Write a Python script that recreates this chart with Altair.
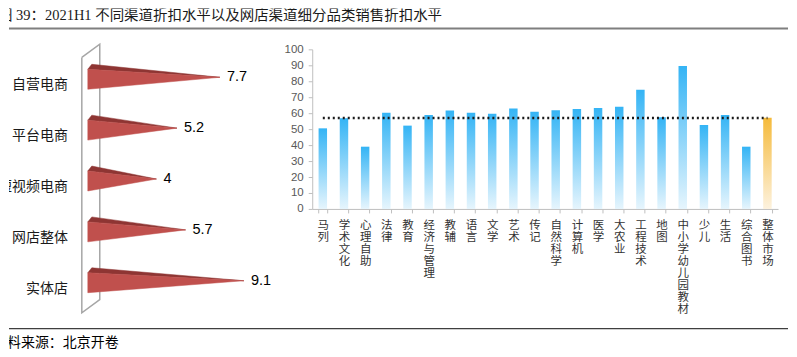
import altair as alt
import pandas as pd

# ---------------- data ----------------
channels = ["自营电商", "平台电商", "短视频电商", "网店整体", "实体店"]
channel_discount = [7.7, 5.2, 4, 5.7, 9.1]

categories = ["马列", "学术文化", "心理自助", "法律", "教育", "经济与管理", "教辅", "语言",
              "文学", "艺术", "传记", "自然科学", "计算机", "医学", "大农业", "工程技术",
              "地图", "中小学幼儿园教材", "少儿", "生活", "综合图书", "整体市场"]
category_discount = [50.5, 56.8, 39.0, 60.3, 52.2, 58.9, 61.6, 60.3, 59.7, 63.0, 60.9,
                     61.8, 62.6, 63.3, 64.1, 74.7, 57.4, 89.6, 52.6, 58.9, 39.0, 57.2]
overall_level = 57.0

TITLE = "图 39：2021H1 不同渠道折扣水平以及网店渠道细分品类销售折扣水平"
SOURCE = "资料来源：北京开卷"

CJK = "'Noto Sans CJK SC', sans-serif"
TITLE_FONT = "'Liberation Serif', 'Noto Sans CJK SC', serif"

# ---------------- left panel (cones) ----------------
STEP = 51.0       # px per category slot
UNIT = 17.2       # px per discount unit
lx = alt.Scale(domain=[0, 10], range=[79, 79 + 10 * UNIT], nice=False, zero=False)
ly = alt.Scale(domain=[0, len(channels) - 1], range=[69, 69 + STEP * (len(channels) - 1)],
               nice=False, zero=False)

main_rows, dark_rows, label_rows = [], [], []
for i, (c, v) in enumerate(zip(channels, channel_discount)):
    top = i - 8 / STEP
    bot = i + 12 / STEP
    dtop = i - 13 / STEP
    xc = 4 / UNIT
    main_rows += [dict(cat=c, k=0, px=0, py=top), dict(cat=c, k=1, px=v, py=i),
                  dict(cat=c, k=2, px=0, py=bot), dict(cat=c, k=3, px=0, py=top)]
    dark_rows += [dict(cat=c, k=0, px=0, py=top), dict(cat=c, k=1, px=xc, py=dtop),
                  dict(cat=c, k=2, px=v, py=i), dict(cat=c, k=3, px=0, py=top)]
    label_rows.append(dict(cat=c, idx=i, v=v, lab=f"{v:g}"))

main_df = pd.DataFrame(main_rows)
dark_df = pd.DataFrame(dark_rows)
lab_df = pd.DataFrame(label_rows)

wx0, wx1 = -6 / UNIT, 12 / UNIT
wall_df = pd.DataFrame(dict(
    k=[0, 1, 2, 3, 4],
    px=[wx0, wx1, wx1, wx0, wx0],
    py=[-0.39, -0.65, 4.37, 4.63, -0.39],
))

wall = alt.Chart(wall_df).mark_line(stroke="#A6A6A6", strokeWidth=1.5).encode(
    x=alt.X("px:Q", scale=lx, axis=None),
    y=alt.Y("py:Q", scale=ly, axis=None),
    order="k:Q",
)

dark_face = alt.Chart(dark_df).mark_line(
    fill="#8E3533", stroke="#8E3533", strokeWidth=0.5, strokeJoin="miter"
).encode(
    x=alt.X("px:Q", scale=lx, axis=None),
    y=alt.Y("py:Q", scale=ly, axis=None),
    detail="cat:N",
    order="k:Q",
)

main_face = alt.Chart(main_df).mark_line(
    fill="#C0504D", stroke="#C0504D", strokeWidth=0.5, strokeJoin="miter"
).encode(
    x=alt.X("px:Q", scale=lx, axis=None),
    y=alt.Y("py:Q", scale=ly, axis=None),
    detail="cat:N",
    order="k:Q",
)

cat_labels = alt.Chart(lab_df).mark_text(
    align="right", baseline="middle", dy=8, fontSize=14, font=CJK, color="#1A1A1A", clip=True
).encode(
    x=alt.value(59),
    y=alt.Y("idx:Q", scale=ly, axis=None),
    text="cat:N",
)

val_labels = alt.Chart(lab_df).mark_text(
    align="left", baseline="middle", dx=7, fontSize=14.5, font="Liberation Sans", color="#000000"
).encode(
    x=alt.X("v:Q", scale=lx, axis=None),
    y=alt.Y("idx:Q", scale=ly, axis=None),
    text="lab:N",
)

# decorations: title, separator lines, source
deco_df = pd.DataFrame(dict(title=[TITLE], source=[SOURCE]))
title_txt = alt.Chart(deco_df).mark_text(
    align="left", baseline="middle", fontSize=14.5, font=TITLE_FONT, color="#1A1A1A", clip=True
).encode(x=alt.value(-11), y=alt.value(8), text="title:N")
source_txt = alt.Chart(deco_df).mark_text(
    align="left", baseline="middle", fontSize=14, font=CJK, color="#000000", clip=True
).encode(x=alt.value(-16), y=alt.value(335), text="source:N")
top_line = alt.Chart(deco_df).mark_rule(color="#7F7F7F", strokeWidth=2).encode(
    x=alt.value(0), x2=alt.value(781), y=alt.value(20))
bottom_line = alt.Chart(deco_df).mark_rule(color="#3F3F3F", strokeWidth=1.3).encode(
    x=alt.value(0), x2=alt.value(781), y=alt.value(321))

left = alt.layer(wall, dark_face, main_face, cat_labels, val_labels,
                 title_txt, source_txt, top_line, bottom_line)

# ---------------- right panel (bars) ----------------
rx = alt.Scale(domain=categories, range=[304, 771], paddingInner=0.6, paddingOuter=0.3)
ry = alt.Scale(domain=[0, 100], range=[201, 41], nice=False, zero=True)

x_axis = alt.Axis(
    orient="bottom", offset=-148, title=None, labelAngle=0,
    labelExpr="split(datum.label, '')", labelBaseline="top", labelAlign="center",
    labelFontSize=11.5, labelLineHeight=12, labelFont=CJK, labelColor="#333333",
    labelPadding=7, labelOverlap=False, tickBand="extent", tickSize=4,
    tickColor="#BFBFBF", domainColor="#BFBFBF", grid=False,
)
y_axis = alt.Axis(
    orient="left", offset=-304, title=None, values=list(range(0, 101, 10)),
    labelFontSize=11.5, labelFont="Liberation Sans", labelColor="#595959",
    labelPadding=5, tickSize=4, tickColor="#BFBFBF", domainColor="#BFBFBF", grid=False,
)

bar_df = pd.DataFrame(dict(cat=categories, v=category_discount))

blue = alt.Gradient(gradient="linear", x1=0, x2=0, y1=1, y2=0, stops=[
    alt.GradientStop(offset=0, color="#E6F5FD"),
    alt.GradientStop(offset=1, color="#34B4F5"),
])
orange = alt.Gradient(gradient="linear", x1=0, x2=0, y1=1, y2=0, stops=[
    alt.GradientStop(offset=0, color="#FDF2DE"),
    alt.GradientStop(offset=1, color="#F5BA3A"),
])

bars_blue = alt.Chart(bar_df).transform_filter(
    alt.datum.cat != categories[-1]
).mark_bar(color=blue).encode(
    x=alt.X("cat:N", scale=rx, axis=x_axis, sort=None),
    y=alt.Y("v:Q", scale=ry, axis=y_axis),
)
bar_orange = alt.Chart(bar_df).transform_filter(
    alt.datum.cat == categories[-1]
).mark_bar(color=orange).encode(
    x=alt.X("cat:N", scale=rx, axis=x_axis, sort=None),
    y=alt.Y("v:Q", scale=ry, axis=y_axis),
)

avg_df = pd.DataFrame(dict(c1=[categories[0]], c2=[categories[-1]], y=[overall_level]))
avg_rule = alt.Chart(avg_df).mark_rule(
    color="#1A1A1A", strokeWidth=2.4, strokeDash=[2, 3]
).encode(
    x=alt.X("c1:N", scale=rx, axis=x_axis, sort=None),
    x2="c2:N",
    y=alt.Y("y:Q", scale=ry, axis=y_axis),
)

right = alt.layer(bars_blue, bar_orange, avg_rule)

chart = alt.layer(left, right).resolve_scale(
    x="independent", y="independent"
).properties(
    width=781, height=349, padding=0, background="white"
).configure_view(stroke=None)

chart.save("out.html", embed_options={"renderer": "svg", "actions": False})
